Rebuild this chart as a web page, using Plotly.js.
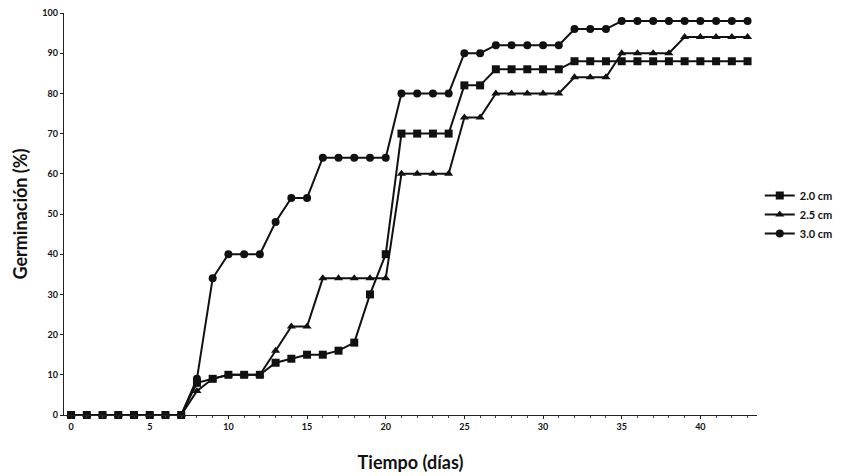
<!DOCTYPE html>
<html>
<head>
<meta charset="utf-8">
<script src="https://cdn.plot.ly/plotly-3.0.1.min.js"></script>
<style>html,body{margin:0;padding:0;background:#fff;}#chart{width:842px;height:476px;}</style>
</head>
<body>
<div id="chart"></div>
<script>
const days = [0,1,2,3,4,5,6,7,8,9,10,11,12,13,14,15,16,17,18,19,20,21,22,23,24,25,26,27,28,29,30,31,32,33,34,35,36,37,38,39,40,41,42,43];
const s20 = [0,0,0,0,0,0,0,0,8,9,10,10,10,13,14,15,15,16,18,30,40,70,70,70,70,82,82,86,86,86,86,86,88,88,88,88,88,88,88,88,88,88,88,88];
const s25 = [0,0,0,0,0,0,0,0,6,9,10,10,10,16,22,22,34,34,34,34,34,60,60,60,60,74,74,80,80,80,80,80,84,84,84,90,90,90,90,94,94,94,94,94];
const s30 = [0,0,0,0,0,0,0,0,9,34,40,40,40,48,54,54,64,64,64,64,64,80,80,80,80,90,90,92,92,92,92,92,96,96,96,98,98,98,98,98,98,98,98,98];
const seriesNames = ["2.0 cm","2.5 cm","3.0 cm"];
const xTickVals = [0,5,10,15,20,25,30,35,40];
const xTickText = ["0","5","10","15","20","25","30","35","40"];
const yTickVals = [0,10,20,30,40,50,60,70,80,90,100];

const fnt = {family:"Lato, 'DejaVu Sans', sans-serif", color:"#111", weight:700};
function tr(y, name, sym, size){
  return {x:days, y:y, name:name, type:"scatter", mode:"lines+markers", cliponaxis:false,
    line:{color:"#111", width:2}, marker:{symbol:sym, size:size, color:"#111"}};
}
const data = [
  tr(s20, seriesNames[0], "square", 8),
  tr(s25, seriesNames[1], "triangle-up", 8),
  tr(s30, seriesNames[2], "circle", 8)
];
const layout = {
  width:842, height:476,
  margin:{l:64, r:85, t:13, b:61, autoexpand:false},
  paper_bgcolor:"#fff", plot_bgcolor:"#fff",
  showlegend:true,
  legend:{x:1.004, xanchor:"left", y:0.499, yanchor:"middle", font:Object.assign({size:11}, fnt), bgcolor:"rgba(0,0,0,0)", itemwidth:30, tracegroupgap:0},
  xaxis:{range:[-0.45,43.6], showline:true, linecolor:"#222", linewidth:1.2, zeroline:false, showgrid:false,
    tickmode:"array", tickvals:xTickVals, ticktext:xTickText, ticks:"outside", ticklen:3, tickcolor:"#222",
    minor:{dtick:1, ticks:"outside", ticklen:2, tickcolor:"#444", showgrid:false},
    tickfont:Object.assign({size:9}, fnt),
    title:{text:"Tiempo (días)", font:Object.assign({size:18}, fnt), standoff:25}},
  yaxis:{range:[0,100], showline:true, linecolor:"#222", linewidth:1.2, zeroline:false, showgrid:false,
    tickmode:"array", tickvals:yTickVals, ticks:"outside", ticklen:3, tickcolor:"#222",
    tickfont:Object.assign({size:9}, fnt),
    title:{text:"Germinación (%)", font:Object.assign({size:18}, fnt), standoff:10}}
};
Plotly.newPlot("chart", data, layout, {displayModeBar:false, staticPlot:true});
</script>
</body>
</html>
